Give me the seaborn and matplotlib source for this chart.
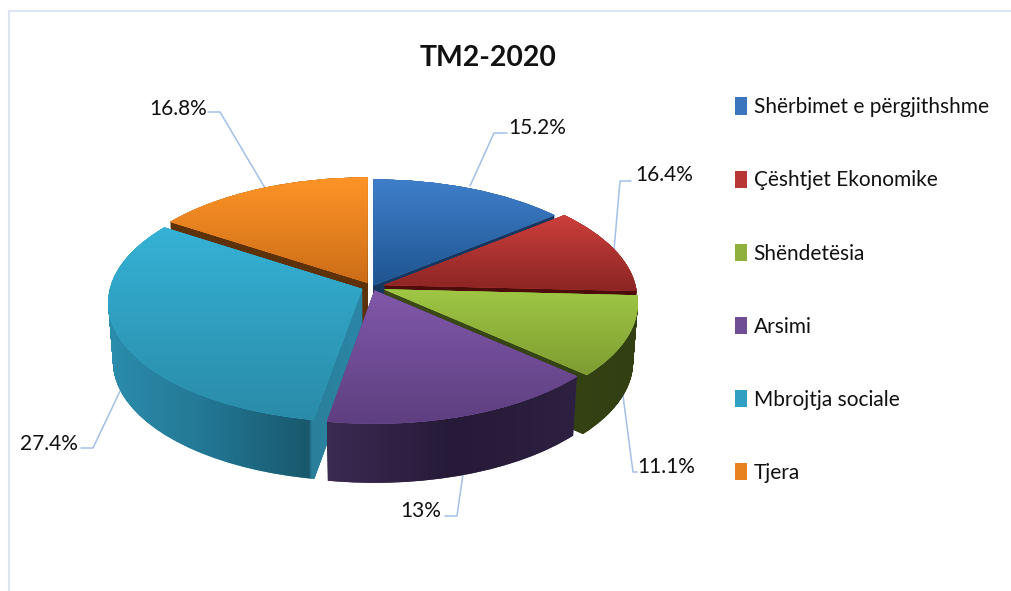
import numpy as np
import matplotlib
matplotlib.use("Agg")
import matplotlib.pyplot as plt
from matplotlib.colors import LinearSegmentedColormap
from matplotlib.patches import Patch, PathPatch
from matplotlib.path import Path
from matplotlib.transforms import Transform
import seaborn as sns

# ---- data ----
title = "TM2-2020"
categories = ["Shërbimet e përgjithshme", "Çështjet Ekonomike", "Shëndetësia",
              "Arsimi", "Mbrojtja sociale", "Tjera"]
printed_labels = ["15.2%", "16.4%", "11.1%", "13%", "27.4%", "16.8%"]
# share of the circle each slice visibly takes once the tilt is undone
drawn_shares = [14.0, 11.8, 10.9, 16.0, 31.6, 15.7]
explode = [0.015, 0.05, 0.05, 0.03, 0.042, 0.04]

# ---- styles ----
sns.set_theme(style="white")
plt.rcParams["font.family"] = ["Lato", "DejaVu Sans"]
palette = sns.color_palette(["#3A75BE", "#B83735", "#8FB03C", "#6F4E96", "#2F9FC2", "#E8811F"])
top_ramps = [["#3F7FCB", "#1F5590"], ["#CC3F3C", "#8A2523"], ["#9FC744", "#7E9C32"],
             ["#8058AA", "#5E3F80"], ["#35B2D6", "#2A8BA8"], ["#FE9427", "#CC6D17"]]
wall_ramps = [[(0, "#17375E"), (1, "#17375E")],
              [(0, "#4C0D0B"), (1, "#4C0D0B")],
              [(0, "#3D4A18"), (1, "#323F12")],
              [(0, "#3B2A52"), (0.5, "#261A38"), (1, "#2E2040")],
              [(0, "#2C8DAC"), (0.4, "#227693"), (0.79, "#19586C"), (0.80, "#2A7F9B"), (1, "#2A86A6")],
              [(0, "#5E3209"), (1, "#5E3209")]]
paint_order = [5, 0, 1, 2, 4, 3]

PIE_X, PIE_Y = 372.0, 287.0
RX, RY = 252.0, 118.0
PERSPECTIVE = 0.11
DEPTH = 59.0


class Tilt(Transform):
    """Projects the flat pie onto the tilted disc, z going down its thickness."""
    input_dims = 2
    output_dims = 2
    has_inverse = False

    def __init__(self, z=0.0):
        super().__init__()
        self.z = z

    def transform_non_affine(self, values):
        x, y = np.asarray(values).T
        s = 1.0 / (1.0 + PERSPECTIVE * y)
        return np.column_stack([PIE_X + RX * x * s * (1 - 0.018 * self.z),
                                PIE_Y - RY * y * s + DEPTH * self.z])


def ramp_fill(ax, path, stops, vertical, zorder):
    """Fill a pixel-space path with a gradient, clipped to the path."""
    ax.add_patch(PathPatch(path, facecolor=stops[0][1], edgecolor="none", zorder=zorder))
    bbox = path.get_extents()
    cmap = LinearSegmentedColormap.from_list("r", stops)
    grad = np.linspace(0, 1, 512)
    grad = grad[:, None] if vertical else grad[None, :]
    im = ax.imshow(grad, cmap=cmap, vmin=0, vmax=1, aspect="auto", interpolation="bilinear",
                   origin="upper", extent=(bbox.x0, bbox.x1, bbox.y1, bbox.y0), zorder=zorder + 0.1)
    clip = PathPatch(path, transform=ax.transData)
    im.set_clip_path(clip)


fig = plt.figure(figsize=(10.11, 5.91), dpi=100, facecolor="white")
ax = fig.add_axes([0, 0, 1, 1])

wedges, _ = ax.pie(drawn_shares, explode=explode, startangle=90, counterclock=False,
                   colors=palette, radius=1.0, wedgeprops={"linewidth": 0})
ax.set_aspect("auto")
ax.set_xlim(0, 1011)
ax.set_ylim(591, 0)
ax.autoscale(False)
ax.set_axis_off()

for rank, i in enumerate(paint_order):
    w = wedges[i]
    flat = w.get_path()
    w.set_transform(Tilt(0.0) + ax.transData)
    base = 10 + rank * 2
    w.set_zorder(base + 1)
    layers = [Tilt(z).transform_path(flat) for z in np.linspace(1, 0, 70)]
    ramp_fill(ax, Path.make_compound_path(*layers), wall_ramps[i], False, base)
    top = Tilt(0.0).transform_path(flat)
    ramp_fill(ax, top, [(0, top_ramps[i][0]), (1, top_ramps[i][1])], True, base + 1)

# chart frame
frame_col = "#DCE6F2"
ax.plot([1011, 8.5, 8.5], [11, 11, 591], color=frame_col, lw=1.6, zorder=1, solid_joinstyle="miter")

# leader lines and data labels
leader_col = "#A3C0E6"
leaders = [([470, 494, 507], [186, 133, 133]),
           ([614, 620, 631], [250, 181, 181]),
           ([622, 633, 637], [388, 472, 472]),
           ([463, 457, 445], [474, 516, 516]),
           ([122, 93, 81], [387, 448, 448]),
           ([265, 220, 208], [188, 112, 112])]
label_pos = [(537, 128), (664, 175), (666, 467), (421, 511), (49, 444), (178, 109)]
for (lx, ly), (tx, ty), txt in zip(leaders, label_pos, printed_labels):
    ax.plot(lx, ly, color=leader_col, lw=1.1, zorder=2)
    ax.text(tx, ty, txt, ha="center", va="center", fontsize=15, color="#111111", zorder=40)

ax.text(488, 58, title, ha="center", va="center", fontsize=20.4, fontweight="bold",
        color="#111111", zorder=40)

handles = [Patch(facecolor=c, edgecolor="none", label=n) for c, n in zip(palette, categories)]
ax.legend(handles=handles, loc="upper left", bbox_to_anchor=(727 / 1011, 1 - 89 / 591),
          bbox_transform=fig.transFigure, frameon=False, fontsize=15.05, labelspacing=2.54,
          handlelength=0.58, handleheight=0.9, handletextpad=0.3, borderaxespad=0, borderpad=0.4,
          labelcolor="#111111").set_zorder(40)

fig.savefig("out.png", dpi=100)
